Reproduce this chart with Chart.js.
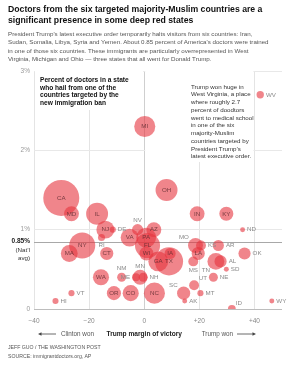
<!DOCTYPE html>
<html><head><meta charset="utf-8">
<script src="https://cdn.jsdelivr.net/npm/chart.js@4"></script>
<style>
html,body{margin:0;padding:0;background:#fff;width:300px;height:375px;overflow:hidden;font-family:"Liberation Sans",Arial,sans-serif;}
#wrap{position:relative;width:300px;height:375px;}
#c{position:absolute;left:0;top:0;}
.t{position:absolute;left:8px;white-space:nowrap;}
#title{top:4px;font-weight:bold;font-size:8.7px;line-height:10.8px;color:#111;}
#sub{top:30px;font-size:6.2px;line-height:8.3px;color:#555;}
#credit{top:343px;font-size:5.2px;line-height:8.6px;color:#555;}
</style></head>
<body><div id="wrap">
<canvas id="c" width="300" height="375"></canvas>
<div class="t" id="title">Doctors from the six targeted majority-Muslim countries are a<br>significant presence in some deep red states</div>
<div class="t" id="sub">President Trump's latest executive order temporarily halts visitors from six countries: Iran,<br>Sudan, Somalia, Libya, Syria and Yemen. About 0.85 percent of America's doctors were trained<br>in one of those six countries. These immigrants are particularly overrepresented in West<br>Virginia, Michigan and Ohio — three states that all went for Donald Trump.</div>
<div class="t" id="credit">JEFF GUO / THE WASHINGTON POST<br>SOURCE: immigrantdoctors.org, AP</div>
</div>
<script>
// ---- data ----
const states = ['CA','MD','IL','OH','IN','KY','MI','WV','NJ','DE','ND','NV','AZ','VA','PA','RI','FL','WI','GA','IA','TX','MO','KS','AR','LA','OK','MS','AL','TN','SD','NE','UT','SC','MT','NC','AK','ID','WY','HI','VT','WA','NM','MN','ME','NH','MA','NY','CT','OR','CO'];
// Trump margin of victory (percentage points)
const margins = [-30.1,-26.4,-17.1,8.1,19.2,29.8,0.2,42.1,-14.1,-11.4,35.7,-2.4,3.5,-5.3,0.7,-15.5,1.2,0.8,5.1,9.4,9.0,18.6,20.6,26.9,19.6,36.4,17.8,27.7,26.0,29.8,25.1,18.1,14.3,20.4,3.7,14.7,31.8,46.3,-32.2,-26.4,-15.7,-8.2,-1.5,-3.0,-0.4,-27.2,-22.5,-13.6,-11.0,-4.9];
// percent of doctors from the six targeted countries
const sharePct = [1.4,1.2,1.2,1.5,1.2,1.2,2.3,2.7,1.0,1.0,1.0,1.0,1.0,0.9,0.9,0.9,0.8,0.7,0.6,0.7,0.6,0.8,0.8,0.8,0.7,0.7,0.6,0.6,0.6,0.5,0.4,0.3,0.2,0.2,0.2,0.1,0.0,0.1,0.1,0.2,0.4,0.4,0.4,0.4,0.4,0.7,0.8,0.7,0.2,0.2];
// estimated number of doctors in the state (thousands) -> bubble area
const doctorsK = [105,18,39,39,18,16,36,4.4,26,3,2,10,18,26,32,4,51,16,32,10,64,18,8,10,14,12,8,12,23,2,6.5,8,14,3,36,2,5,2,3,3,21,6.5,18,5,6.5,23,55,14,16,21];
const xTickValues = [-40,-20,0,20,40];
const xTickLabels = ['\u221240','\u221220','0','+20','+40'];
const yTickValues = [0,1,2,3];
const yTickLabels = ['0','1%','2%','3%'];
const nationalAvg = 0.85;

// ---- styling config ----
const FONT = '"Liberation Sans", Arial, sans-serif';
const labelPlace = {DE:'r',ND:'r',NV:'t',MO:'tl',KS:'r',AR:'r',OK:'r',MS:'b',AL:'r',TN:'bl',SD:'r',NE:'r',UT:'tr',SC:'tl',MT:'r',AK:'r',ID:'tr',WY:'r',HI:'r',VT:'r',NM:'t',MN:'t',ME:'l',NH:'r',RI:'b',WV:'r'};
const rScale = 18/Math.sqrt(105);

const annot = {
  id:'annot',
  beforeDatasetsDraw(chart){
    const {ctx, scales:{x,y}, chartArea:ca} = chart;
    ctx.save();
    ctx.fillStyle='#fff';
    ctx.fillRect(x.getPixelForValue(-40)+1, ca.top-1, x.getPixelForValue(0)-x.getPixelForValue(-40)-2, 40);
    ctx.fillRect(x.getPixelForValue(0)+1, ca.top-1, x.getPixelForValue(40)-x.getPixelForValue(0)-2, 92);
    const yp = Math.round(y.getPixelForValue(nationalAvg))+0.5;
    ctx.strokeStyle='#a8a8a8'; ctx.lineWidth=1.2;
    ctx.beginPath(); ctx.moveTo(ca.left, yp); ctx.lineTo(ca.right, yp); ctx.stroke();
    ctx.fillStyle='#111'; ctx.textBaseline='middle'; ctx.textAlign='left';
    ctx.font='bold 6.6px '+FONT;
    ['Percent of doctors in a state','who hail from one of the','countries targeted by the','new immigration ban']
      .forEach((s,i)=>ctx.fillText(s, 40, 80+i*7.8));
    ctx.fillStyle='#333'; ctx.font='6.2px '+FONT;
    ['Trump won huge in','West Virginia, a place','where roughly 2.7','percent of doodtors','went to medical school','in one of the six','majority-Muslim','countries targeted by','President Trump\u2019s','latest executive order.']
      .forEach((s,i)=>ctx.fillText(s, 191, 87+i*7.75));
    ctx.restore();
  },
  afterDatasetsDraw(chart){
    const {ctx} = chart;
    const meta = chart.getDatasetMeta(0);
    ctx.save();
    ctx.font='6.2px '+FONT; ctx.textBaseline='middle';
    meta.data.forEach((el,i)=>{
      const s=states[i], p=labelPlace[s]||'c', r=el.options.radius;
      let px=el.x, py=el.y, al='center';
      if(p==='r'){px+=r+2;al='left';}
      else if(p==='l'){px-=r+2;al='right';}
      else if(p==='t'){py-=r+4;}
      else if(p==='b'){py+=r+4;}
      else if(p==='tl'){px-=r*0.75+1;py-=r*0.75+3;al='right';}
      else if(p==='tr'){px+=r*0.75+1;py-=r*0.75+3;al='left';}
      else if(p==='bl'){px-=r*0.7;py+=r*0.7+3;al='right';}
      ctx.textAlign=al;
      ctx.fillStyle = p==='c' ? 'rgba(90,40,45,0.8)' : '#8a8a8a';
      ctx.fillText(s, px, py);
    });
    ctx.restore();
  },
  afterDraw(chart){
    const {ctx, scales:{x,y}} = chart;
    ctx.save();
    ctx.textBaseline='middle';
    const yp = y.getPixelForValue(nationalAvg);
    ctx.textAlign='right'; ctx.fillStyle='#222';
    ctx.font='bold 6.5px '+FONT; ctx.fillText('0.85%', 30, yp);
    ctx.font='6.2px '+FONT; ctx.fillStyle='#333';
    ctx.fillText('(Nat\u2019l', 30, yp+8.3); ctx.fillText('avg)', 30, yp+16.6);
    const ty = 334;
    ctx.font='bold 6.6px '+FONT; ctx.fillStyle='#222'; ctx.textAlign='center';
    ctx.fillText('Trump margin of victory', x.getPixelForValue(0), ty);
    ctx.font='6.3px '+FONT; ctx.fillStyle='#555';
    ctx.textAlign='left'; ctx.fillText('Clinton won', 61, ty);
    ctx.textAlign='right'; ctx.fillText('Trump won', 233, ty);
    ctx.strokeStyle='#444'; ctx.fillStyle='#444'; ctx.lineWidth=0.8;
    ctx.beginPath(); ctx.moveTo(40,ty); ctx.lineTo(56,ty); ctx.stroke();
    ctx.beginPath(); ctx.moveTo(38,ty); ctx.lineTo(41.5,ty-1.8); ctx.lineTo(41.5,ty+1.8); ctx.closePath(); ctx.fill();
    ctx.beginPath(); ctx.moveTo(237,ty); ctx.lineTo(254,ty); ctx.stroke();
    ctx.beginPath(); ctx.moveTo(256,ty); ctx.lineTo(252.5,ty-1.8); ctx.lineTo(252.5,ty+1.8); ctx.closePath(); ctx.fill();
    ctx.restore();
  }
};

new Chart(document.getElementById('c'), {
  type:'bubble',
  data:{ datasets:[{
    data: states.map((s,i)=>({x:margins[i], y:sharePct[i]})),
    radius: ctx => Math.sqrt(doctorsK[ctx.dataIndex])*rScale,
    backgroundColor:'rgba(230,52,62,0.6)',
    borderWidth:0, hoverRadius:0
  }]},
  options:{
    responsive:false, animation:false, devicePixelRatio:1,
    events:[],
    layout:{padding:{left:0,right:12,top:71,bottom:52}},
    plugins:{legend:{display:false}, tooltip:{enabled:false}},
    scales:{
      x:{ min:-40, max:50,
        afterBuildTicks: s => { s.ticks = xTickValues.map(v=>({value:v})); },
        afterFit: s => { s.height = 14; },
        border:{display:false},
        grid:{ drawTicks:false, color: c => c.tick && c.tick.value===0 ? '#cfcfcf' : '#e4e4e4', lineWidth:1 },
        ticks:{ padding:8, color:'#888', font:{size:6.5, family:FONT}, maxRotation:0, autoSkip:false,
          callback:(v)=>xTickLabels[xTickValues.indexOf(v)] }
      },
      y:{ min:0, max:3,
        afterBuildTicks: s => { s.ticks = yTickValues.map(v=>({value:v})); },
        afterFit: s => { s.width = 34; },
        border:{display:false},
        grid:{ drawTicks:false, color: c => c.tick && c.tick.value===0 ? '#bdbdbd' : '#e8e8e8', lineWidth:1 },
        ticks:{ padding:4, color:'#999', font:{size:6.5, family:FONT},
          callback:(v)=>yTickLabels[yTickValues.indexOf(v)] }
      }
    }
  },
  plugins:[annot]
});
</script>
</body></html>
